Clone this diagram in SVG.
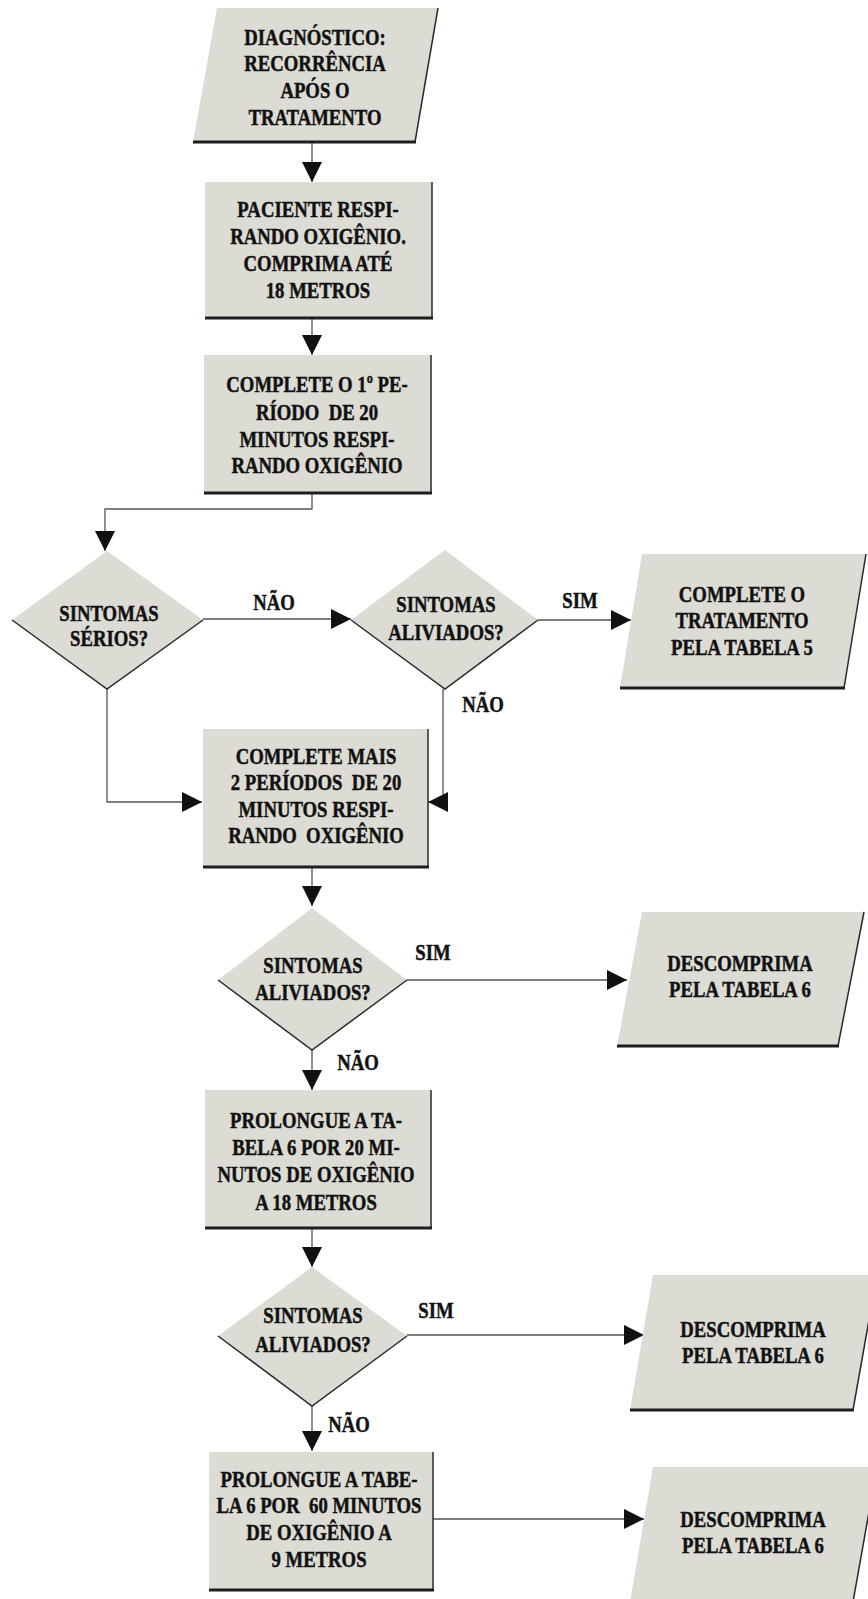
<svg xmlns="http://www.w3.org/2000/svg" width="868" height="1599" viewBox="0 0 868 1599">
<style>
.f{fill:#dcdcd4;stroke:none}
.sb{fill:none;stroke:#1e1e1e;stroke-width:3}
.sr{fill:none;stroke:#2a2a2a;stroke-width:1.5}
.c{fill:none;stroke:#555;stroke-width:1.3}
.t{font-family:"Liberation Serif","Times New Roman",serif;font-weight:bold;font-size:24px;fill:#111;stroke:#111;stroke-width:0.5;text-anchor:middle;white-space:pre}
</style>
<defs>
<marker id="ah" markerUnits="userSpaceOnUse" markerWidth="22" markerHeight="22" refX="20" refY="10" orient="auto">
<path d="M0,0 L20,10 L0,20 z" fill="#111"/>
</marker>
</defs>
<rect width="868" height="1599" fill="#ffffff"/>

<g id="connectors">
<path class="c" d="M312,142 V182" marker-end="url(#ah)"/>
<path class="c" d="M312,318 V355" marker-end="url(#ah)"/>
<path class="c" d="M312,493 V509 H105 V551" marker-end="url(#ah)"/>
<path class="c" d="M203,619 H351" marker-end="url(#ah)"/>
<path class="c" d="M538,620 H631" marker-end="url(#ah)"/>
<path class="c" d="M443,689 V802 H428" marker-end="url(#ah)"/>
<path class="c" d="M107,689 V802 H202" marker-end="url(#ah)"/>
<path class="c" d="M312,867 V906" marker-end="url(#ah)"/>
<path class="c" d="M407,980 H627" marker-end="url(#ah)"/>
<path class="c" d="M312,1050 V1090" marker-end="url(#ah)"/>
<path class="c" d="M312,1228 V1267" marker-end="url(#ah)"/>
<path class="c" d="M407,1335 H644" marker-end="url(#ah)"/>
<path class="c" d="M312,1406 V1451" marker-end="url(#ah)"/>
<path class="c" d="M433,1519 H644" marker-end="url(#ah)"/>
<g transform="translate(274,0) scale(0.78,1)"><text class="t" x="0" y="610">NÃO</text></g>
<g transform="translate(580,0) scale(0.78,1)"><text class="t" x="0" y="608">SIM</text></g>
<g transform="translate(483,0) scale(0.78,1)"><text class="t" x="0" y="712">NÃO</text></g>
<g transform="translate(433,0) scale(0.78,1)"><text class="t" x="0" y="960">SIM</text></g>
<g transform="translate(358,0) scale(0.78,1)"><text class="t" x="0" y="1070">NÃO</text></g>
<g transform="translate(436,0) scale(0.78,1)"><text class="t" x="0" y="1318">SIM</text></g>
<g transform="translate(349,0) scale(0.78,1)"><text class="t" x="0" y="1432">NÃO</text></g>
</g>

<g id="n1">
<polygon class="f" points="217,8 438,8 415,142 193,142"/>
<polyline class="sr" points="438,8 415,142"/>
<line class="sb" x1="193" y1="142" x2="416" y2="142"/>
<g transform="translate(315,0) scale(0.78,1)">
<text class="t" x="0" y="45">DIAGNÓSTICO:</text>
<text class="t" x="0" y="71">RECORRÊNCIA</text>
<text class="t" x="0" y="98">APÓS O</text>
<text class="t" x="0" y="125">TRATAMENTO</text>
</g>
</g>

<g id="n2">
<rect class="f" x="205" y="182" width="227" height="136"/>
<line class="sr" x1="432" y1="182" x2="432" y2="318"/>
<line class="sb" x1="205" y1="318" x2="433" y2="318"/>
<g transform="translate(318,0) scale(0.78,1)">
<text class="t" x="0" y="217">PACIENTE RESPI-</text>
<text class="t" x="0" y="244">RANDO OXIGÊNIO.</text>
<text class="t" x="0" y="271">COMPRIMA ATÉ</text>
<text class="t" x="0" y="298">18 METROS</text>
</g>
</g>

<g id="n3">
<rect class="f" x="204" y="355" width="227" height="138"/>
<line class="sr" x1="431" y1="355" x2="431" y2="493"/>
<line class="sb" x1="204" y1="493" x2="432" y2="493"/>
<g transform="translate(317,0) scale(0.78,1)">
<text class="t" x="0" y="392">COMPLETE O 1º PE-</text>
<text class="t" x="0" y="420">RÍODO  DE 20</text>
<text class="t" x="0" y="447">MINUTOS RESPI-</text>
<text class="t" x="0" y="473">RANDO OXIGÊNIO</text>
</g>
</g>

<g id="d1">
<polygon class="f" points="107,551 203,620 107,689 12,620"/>
<polyline class="sr" points="12,620 107,689 203,620"/>
<g transform="translate(109,0) scale(0.78,1)">
<text class="t" x="0" y="621">SINTOMAS</text>
<text class="t" x="0" y="646">SÉRIOS?</text>
</g>
</g>

<g id="d2">
<polygon class="f" points="445,550 538,620 445,689 351,620"/>
<polyline class="sr" points="351,620 445,689 538,620"/>
<g transform="translate(446,0) scale(0.78,1)">
<text class="t" x="0" y="612">SINTOMAS</text>
<text class="t" x="0" y="640">ALIVIADOS?</text>
</g>
</g>

<g id="p1">
<polygon class="f" points="642,554 866,554 844,688 620,688"/>
<polyline class="sr" points="866,554 844,688"/>
<line class="sb" x1="620" y1="688" x2="845" y2="688"/>
<g transform="translate(742,0) scale(0.78,1)">
<text class="t" x="0" y="602">COMPLETE O</text>
<text class="t" x="0" y="628">TRATAMENTO</text>
<text class="t" x="0" y="655">PELA TABELA 5</text>
</g>
</g>

<g id="n4">
<rect class="f" x="203" y="729" width="225" height="138"/>
<line class="sr" x1="428" y1="729" x2="428" y2="867"/>
<line class="sb" x1="203" y1="867" x2="429" y2="867"/>
<g transform="translate(316,0) scale(0.78,1)">
<text class="t" x="0" y="764">COMPLETE MAIS</text>
<text class="t" x="0" y="790">2 PERÍODOS  DE 20</text>
<text class="t" x="0" y="817">MINUTOS RESPI-</text>
<text class="t" x="0" y="843">RANDO  OXIGÊNIO</text>
</g>
</g>

<g id="d3">
<polygon class="f" points="312,908 407,980 312,1050 218,980"/>
<polyline class="sr" points="218,980 312,1050 407,980"/>
<g transform="translate(313,0) scale(0.78,1)">
<text class="t" x="0" y="973">SINTOMAS</text>
<text class="t" x="0" y="1000">ALIVIADOS?</text>
</g>
</g>

<g id="p2">
<polygon class="f" points="642,912 864,912 838,1046 617,1046"/>
<polyline class="sr" points="864,912 838,1046"/>
<line class="sb" x1="617" y1="1046" x2="839" y2="1046"/>
<g transform="translate(740,0) scale(0.78,1)">
<text class="t" x="0" y="971">DESCOMPRIMA</text>
<text class="t" x="0" y="997">PELA TABELA 6</text>
</g>
</g>

<g id="n5">
<rect class="f" x="205" y="1090" width="226" height="138"/>
<line class="sr" x1="431" y1="1090" x2="431" y2="1228"/>
<line class="sb" x1="205" y1="1228" x2="432" y2="1228"/>
<g transform="translate(316,0) scale(0.78,1)">
<text class="t" x="0" y="1128">PROLONGUE A TA-</text>
<text class="t" x="0" y="1155">BELA 6 POR 20 MI-</text>
<text class="t" x="0" y="1182">NUTOS DE OXIGÊNIO</text>
<text class="t" x="0" y="1210">A 18 METROS</text>
</g>
</g>

<g id="d4">
<polygon class="f" points="312,1267 407,1336 312,1406 218,1336"/>
<polyline class="sr" points="218,1336 312,1406 407,1336"/>
<g transform="translate(313,0) scale(0.78,1)">
<text class="t" x="0" y="1323">SINTOMAS</text>
<text class="t" x="0" y="1352">ALIVIADOS?</text>
</g>
</g>

<g id="p3">
<polygon class="f" points="653,1275 877,1275 853,1410 630,1410"/>
<polyline class="sr" points="877,1275 853,1410"/>
<line class="sb" x1="630" y1="1410" x2="854" y2="1410"/>
<g transform="translate(753,0) scale(0.78,1)">
<text class="t" x="0" y="1337">DESCOMPRIMA</text>
<text class="t" x="0" y="1363">PELA TABELA 6</text>
</g>
</g>

<g id="n6">
<rect class="f" x="209" y="1452" width="224" height="138"/>
<line class="sr" x1="433" y1="1452" x2="433" y2="1590"/>
<line class="sb" x1="209" y1="1590" x2="434" y2="1590"/>
<g transform="translate(319,0) scale(0.78,1)">
<text class="t" x="0" y="1487">PROLONGUE A TABE-</text>
<text class="t" x="0" y="1513">LA 6 POR  60 MINUTOS</text>
<text class="t" x="0" y="1540">DE OXIGÊNIO A</text>
<text class="t" x="0" y="1567">9 METROS</text>
</g>
</g>

<g id="p4">
<polygon class="f" points="653,1467 877,1467 853,1602 630,1602"/>
<polyline class="sr" points="877,1467 853,1602"/>
<g transform="translate(753,0) scale(0.78,1)">
<text class="t" x="0" y="1527">DESCOMPRIMA</text>
<text class="t" x="0" y="1553">PELA TABELA 6</text>
</g>
</g>
</svg>
